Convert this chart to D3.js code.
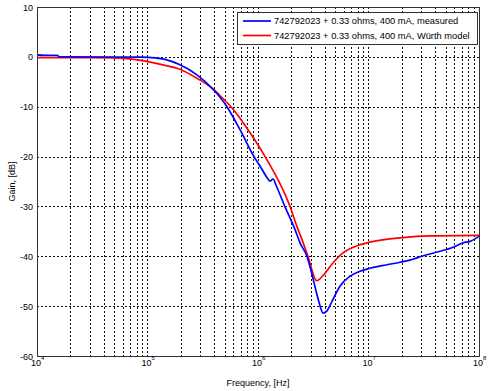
<!DOCTYPE html>
<html><head><meta charset="utf-8">
<script src="https://cdn.jsdelivr.net/npm/d3@7"></script>
<style>
html,body{margin:0;padding:0;background:#fff;}
svg text{font-family:"Liberation Sans",Arial,sans-serif;fill:#000;}
</style></head>
<body>
<svg id="chart" width="500" height="391"></svg>
<script>
// ---- data ----
const seriesNames = ["742792023 + 0.33 ohms, 400 mA, measured", "742792023 + 0.33 ohms, 400 mA, Würth model"];
const seriesColors = ["#0000ff", "#ff0000"];
const measuredFreq = [1e4, 1.18e4, 1.52e4, 1.61e4, 8.55e4, 1.17e5, 1.44e5, 1.97e5, 2.8e5, 3.84e5, 5.24e5, 6.87e5, 9.2e5, 1.09e6, 1.23e6, 1.28e6, 1.37e6, 1.46e6, 1.75e6, 2.16e6, 2.4e6, 2.77e6, 3.11e6, 3.4e6, 3.65e6, 3.87e6, 4.19e6, 4.5e6, 4.78e6, 5.52e6, 6.8e6, 8.38e6, 1.03e7, 1.47e7, 1.93e7, 2.53e7, 2.92e7, 5.13e7, 5.82e7, 7.16e7, 8.3e7, 1e8];
const measuredGain = [0.4, 0.3, 0.3, 0.0, -0.05, -0.2, -0.5, -1.6, -3.6, -6.3, -10, -14.6, -20, -22.6, -24.5, -24.9, -24.5, -25.8, -30, -34.6, -37.3, -40, -44, -47.5, -50, -51.4, -51, -49.8, -48.6, -46, -44, -43, -42.4, -41.7, -41.2, -40.6, -40.1, -38.6, -38.2, -37.3, -37, -36];
const modelFreq = [1e4, 5e4, 6.9e4, 9.84e4, 1.38e5, 1.97e5, 2.8e5, 3.84e5, 4.6e5, 6e5, 8.12e5, 1.16e6, 1.95e6, 2.3e6, 2.4e6, 2.83e6, 3.4e6, 3.87e6, 4.78e6, 5.88e6, 7.87e6, 9.68e6, 1.35e7, 1.93e7, 3.6e7, 1e8];
const modelGain = [-0.15, -0.2, -0.4, -0.9, -1.6, -2.5, -4.3, -6.3, -7.9, -10.6, -14.6, -20, -30, -34.6, -35.6, -40, -44.9, -43.9, -41.3, -39.3, -37.9, -37.3, -36.7, -36.3, -35.9, -35.8];
const yTicks = [10, 0, -10, -20, -30, -40, -50, -60];
const xTickExponents = [4, 5, 6, 7, 8];
const xLabel = "Frequency, [Hz]";
const yLabel = "Gain, [dB]";

// ---- chart ----
const svg = d3.select("#chart");
const L = 37, R = 479, T = 7, B = 356;
const x = d3.scaleLog().domain([1e4, 1e8]).range([L, R]);
const y = d3.scaleLinear().domain([-60, 10]).range([B, T]);

svg.append("rect").attr("x", L).attr("y", T).attr("width", R - L).attr("height", B - T).attr("fill", "#fff");

// grid
const gridX = [];
for (let d = 4; d < 8; d++) for (let m = 1; m <= 9; m++) gridX.push(m * Math.pow(10, d));
const g = svg.append("g");
g.selectAll("line.vx").data(gridX.filter(v => v > 1e4)).enter().append("line")
  .attr("x1", d => Math.round(x(d)) + 0.5).attr("x2", d => Math.round(x(d)) + 0.5)
  .attr("y1", T).attr("y2", B)
  .attr("stroke", "#111").attr("stroke-width", 1).attr("stroke-dasharray", "2,2");
g.selectAll("line.hy").data(yTicks.filter(v => v > -60 && v < 10)).enter().append("line")
  .attr("y1", d => Math.round(y(d)) + 0.5).attr("y2", d => Math.round(y(d)) + 0.5)
  .attr("x1", L).attr("x2", R)
  .attr("stroke", "#111").attr("stroke-width", 1).attr("stroke-dasharray", "2,2");

// curves
const line = d3.line().x(d => x(d[0])).y(d => y(d[1])).curve(d3.curveMonotoneX);
const series = [d3.zip(measuredFreq, measuredGain), d3.zip(modelFreq, modelGain)];
[1, 0].forEach(i => {
  svg.append("path").datum(series[i]).attr("d", line)
    .attr("fill", "none").attr("stroke", seriesColors[i]).attr("stroke-width", 1.7)
    .attr("stroke-linejoin", "round");
});

// box
svg.append("rect").attr("x", L + 0.5).attr("y", T + 0.5).attr("width", R - L).attr("height", B - T)
  .attr("fill", "none").attr("stroke", "#333").attr("stroke-width", 1);

// y tick labels
svg.selectAll("text.yt").data(yTicks).enter().append("text")
  .attr("x", L - 4).attr("y", d => y(d) + 3.5).attr("text-anchor", "end")
  .attr("font-size", 9).text(d => d);

// x tick labels with superscript
const xt = svg.selectAll("g.xt").data(xTickExponents).enter().append("g")
  .attr("transform", d => `translate(${x(Math.pow(10, d))},0)`);
xt.append("text").attr("x", -1).attr("y", B + 10).attr("text-anchor", "middle").attr("font-size", 9).text("10");
xt.append("text").attr("x", 4).attr("y", B + 4).attr("text-anchor", "start").attr("font-size", 6).text(d => d);

// axis labels
svg.append("text").attr("x", (L + R) / 2).attr("y", 386).attr("text-anchor", "middle").attr("font-size", 9).text(xLabel);
svg.append("text").attr("transform", `translate(15,${(T + B) / 2}) rotate(-90)`).attr("text-anchor", "middle")
  .attr("font-size", 9).text(yLabel);

// legend
const lg = svg.append("g");
lg.append("rect").attr("x", 237.5).attr("y", 12.5).attr("width", 240).attr("height", 32)
  .attr("fill", "#fff").attr("stroke", "#333").attr("stroke-width", 1);
seriesNames.forEach((name, i) => {
  const yy = 21 + i * 14.5;
  lg.append("line").attr("x1", 243).attr("x2", 271).attr("y1", yy).attr("y2", yy)
    .attr("stroke", seriesColors[i]).attr("stroke-width", 1.7);
  lg.append("text").attr("x", 274).attr("y", yy + 3.3).attr("font-size", 9.3).text(name);
});
</script>
</body></html>
